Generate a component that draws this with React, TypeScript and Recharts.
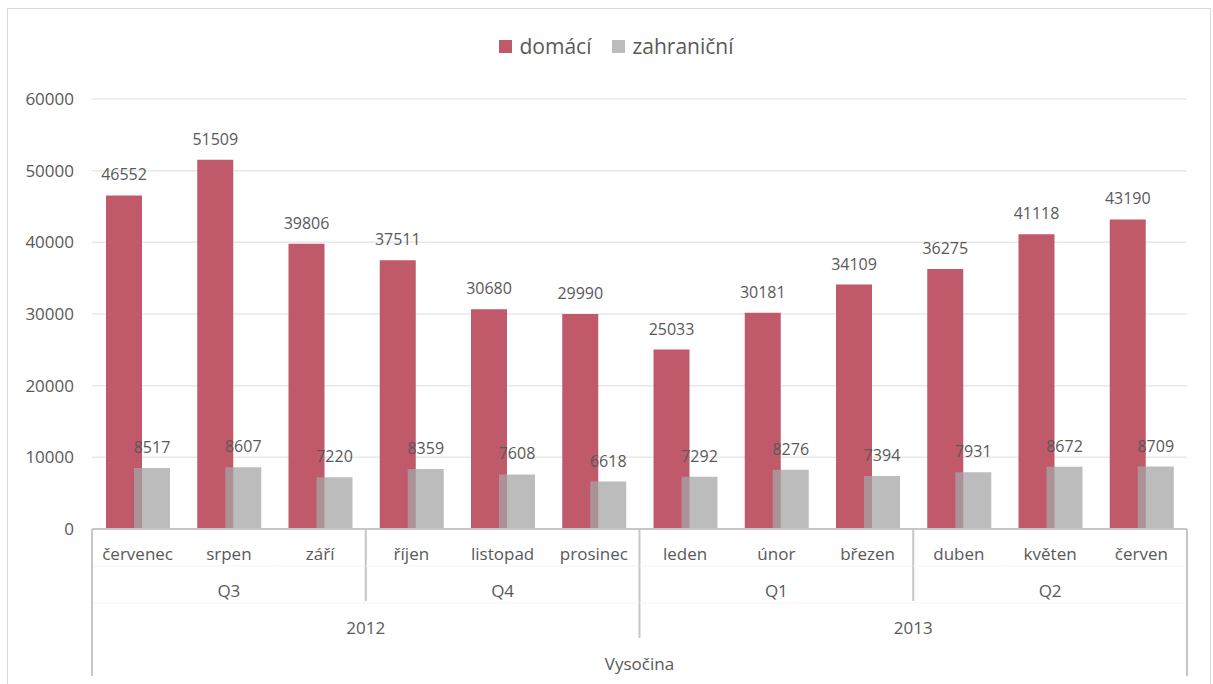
import React from "react";
import { BarChart, Bar, XAxis, YAxis, CartesianGrid, Legend, LabelList } from "recharts";

const months = ["červenec", "srpen", "září", "říjen", "listopad", "prosinec", "leden", "únor", "březen", "duben", "květen", "červen"];
const quarters = ["Q3", "Q3", "Q3", "Q4", "Q4", "Q4", "Q1", "Q1", "Q1", "Q2", "Q2", "Q2"];
const years = ["2012", "2012", "2012", "2012", "2012", "2012", "2013", "2013", "2013", "2013", "2013", "2013"];
const region = "Vysočina";
const domaci = [46552, 51509, 39806, 37511, 30680, 29990, 25033, 30181, 34109, 36275, 41118, 43190];
const zahranicni = [8517, 8607, 7220, 8359, 7608, 6618, 7292, 8276, 7394, 7931, 8672, 8709];
const yTicks = [0, 10000, 20000, 30000, 40000, 50000, 60000];

const data = months.map((m, i) => ({
  month: m,
  quarter: quarters[i],
  year: years[i],
  domaci: domaci[i],
  zahranicni: zahranicni[i],
}));

const W = 1213;
const H = 684;
const M = { top: 99, right: 26, bottom: 0, left: 0 };
const Y_W = 92;
const X_H = 155;
const PLOT_W = W - M.left - M.right - Y_W;
const BW = PLOT_W / months.length;

const TEXT = "#595959";
const FONT = "'Open Sans', sans-serif";
const AXIS = "#c6c6c6";
const RED = "#c05a6a";
const GREY = "#a5a5a5";
const AX_FS = 17;

const MultiTick = (props: any) => {
  const { x, y, index } = props;
  const i = index as number;
  const els: React.ReactNode[] = [];
  els.push(
    <text key="m" x={x} y={y + 24} textAnchor="middle" dominantBaseline="central" fontSize={AX_FS} fill={TEXT} fontFamily={FONT}>
      {months[i]}
    </text>
  );
  const left = x - BW / 2;
  const right = x + BW / 2;
  els.push(<line key="h1" x1={left} x2={right} y1={y + 37} y2={y + 37} stroke="#f5f5f5" strokeWidth={1} />);
  els.push(<line key="h2" x1={left} x2={right} y1={y + 74} y2={y + 74} stroke="#f5f5f5" strokeWidth={1} />);
  if (i % 3 === 1) {
    els.push(
      <text key="q" x={x} y={y + 61} textAnchor="middle" dominantBaseline="central" fontSize={AX_FS} fill={TEXT} fontFamily={FONT}>
        {quarters[i]}
      </text>
    );
  }
  if (i % 6 === 2) {
    els.push(
      <text key="y" x={right} y={y + 98} textAnchor="middle" dominantBaseline="central" fontSize={AX_FS} fill={TEXT} fontFamily={FONT}>
        {years[i]}
      </text>
    );
  }
  if (i === 5) {
    els.push(
      <text key="r" x={right} y={y + 134} textAnchor="middle" dominantBaseline="central" fontSize={AX_FS} fill={TEXT} fontFamily={FONT}>
        {region}
      </text>
    );
  }
  if (i === 0) {
    els.push(<line key="s0" x1={left} x2={left} y1={y} y2={y + 147} stroke={AXIS} strokeWidth={2} />);
  }
  const nextDiffYear = i < months.length - 1 && years[i + 1] !== years[i];
  const nextDiffQuarter = i < months.length - 1 && quarters[i + 1] !== quarters[i];
  if (i === months.length - 1) {
    els.push(<line key="se" x1={right} x2={right} y1={y} y2={y + 147} stroke={AXIS} strokeWidth={2} />);
  } else if (nextDiffYear) {
    els.push(<line key="sy" x1={right} x2={right} y1={y} y2={y + 109} stroke={AXIS} strokeWidth={2} />);
  } else if (nextDiffQuarter) {
    els.push(<line key="sq" x1={right} x2={right} y1={y} y2={y + 72} stroke={AXIS} strokeWidth={2} />);
  }
  return <g>{els}</g>;
};

const LegendContent = () => (
  <div style={{ display: "flex", justifyContent: "center", alignItems: "center", fontFamily: FONT, fontSize: 21, color: TEXT, paddingLeft: 20 }}>
    <span style={{ display: "inline-block", width: 13, height: 13, background: RED, marginRight: 7 }} />
    <span style={{ marginRight: 21 }}>domácí</span>
    <span style={{ display: "inline-block", width: 13, height: 13, background: GREY, opacity: 0.75, marginRight: 7 }} />
    <span>zahraniční</span>
  </div>
);

export default function App() {
  return (
    <div style={{ position: "absolute", left: 0, top: 0, width: W, height: H, background: "#fff", overflow: "hidden" }}>
      <div style={{ position: "absolute", left: 7, top: 8, width: 1204, height: 680, border: "1px solid #d9d9d9", boxSizing: "border-box" }} />
      <div style={{ position: "absolute", left: 0, top: 0 }}>
        <BarChart width={W} height={H} data={data} margin={M} barGap={-8} barSize={36}>
          <CartesianGrid vertical={false} stroke="#e8e8e8" strokeWidth={1.5} />
          <XAxis
            dataKey="month"
            height={X_H}
            interval={0}
            tickLine={false}
            tickSize={0}
            tickMargin={0}
            axisLine={{ stroke: AXIS, strokeWidth: 2 }}
            tick={<MultiTick />}
          />
          <YAxis
            width={Y_W}
            domain={[0, 60000]}
            ticks={yTicks}
            interval={0}
            axisLine={false}
            tickLine={false}
            tickSize={0}
            tickMargin={18}
            tick={{ fontSize: AX_FS, fill: TEXT, fontFamily: FONT }}
          />
          <Legend
            verticalAlign="middle"
            layout="horizontal"
            content={<LegendContent />}
            wrapperStyle={{ position: "absolute", top: 32, left: 0, width: W }}
          />
          <Bar dataKey="domaci" name="domácí" fill={RED} isAnimationActive={false}>
            <LabelList dataKey="domaci" position="top" offset={15} fill={TEXT} fontSize={16} fontFamily={FONT} />
          </Bar>
          <Bar dataKey="zahranicni" name="zahraniční" fill={GREY} fillOpacity={0.75} isAnimationActive={false}>
            <LabelList dataKey="zahranicni" position="top" offset={15} fill={TEXT} fontSize={16} fontFamily={FONT} />
          </Bar>
        </BarChart>
      </div>
    </div>
  );
}
